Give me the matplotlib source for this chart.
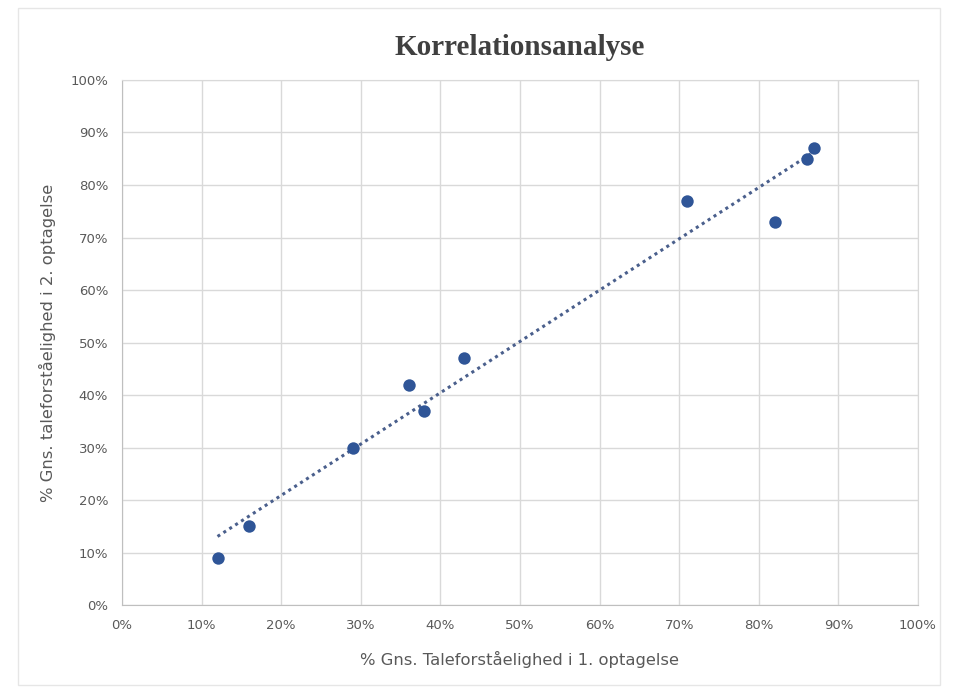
import matplotlib.pyplot as plt
import matplotlib.patches as patches
import numpy as np
from matplotlib.ticker import PercentFormatter, MultipleLocator

# Data (in %)
optagelse_1 = [12, 16, 29, 36, 38, 43, 71, 82, 86, 87]
optagelse_2 = [9, 15, 30, 42, 37, 47, 77, 73, 85, 87]

title = "Korrelationsanalyse"
x_label = "% Gns. Taleforståelighed i 1. optagelse"
y_label = "% Gns. taleforståelighed i 2. optagelse"

grid_color = "#d9d9d9"
text_color = "#595959"
point_color = "#2f5597"

fig = plt.figure(figsize=(9.57, 6.92), dpi=100)
fig.patches.append(patches.Rectangle((0.019, 0.01), 0.963, 0.978, transform=fig.transFigure,
                                     fill=False, edgecolor="#e6e6e6", lw=1))

ax = fig.add_axes([0.1275, 0.1257, 0.8317, 0.7587])

x = np.array(optagelse_1)
y = np.array(optagelse_2)

# lineær trendlinje
slope, intercept = np.polyfit(x, y, 1)
xs = np.array([x.min(), x.max()])
ax.plot(xs, slope * xs + intercept, linestyle=(0, (1, 1.3)), color="#4a5f8c", lw=2.2, zorder=2)

ax.scatter(x, y, s=80, color=point_color, zorder=3, linewidths=0)

ax.set_xlim(0, 100)
ax.set_ylim(0, 100)
ax.xaxis.set_major_locator(MultipleLocator(10))
ax.yaxis.set_major_locator(MultipleLocator(10))
ax.xaxis.set_major_formatter(PercentFormatter(decimals=0))
ax.yaxis.set_major_formatter(PercentFormatter(decimals=0))
ax.grid(True, color=grid_color, lw=1)
ax.set_axisbelow(True)
for s in ax.spines.values():
    s.set_color(grid_color)
ax.spines["left"].set_color("#bfbfbf")
ax.spines["bottom"].set_color("#bfbfbf")
ax.tick_params(length=0, colors=text_color, labelsize=9.5, pad=10)

ax.set_xlabel(x_label, fontsize=11.8, color=text_color, labelpad=14)
ax.set_ylabel(y_label, fontsize=11.8, color=text_color, labelpad=10)

fig.text(0.543, 0.932, title, ha="center", va="center", fontsize=21, fontweight="bold",
         family="Liberation Serif", color="#404040")

fig.savefig("out.png", dpi=100)
